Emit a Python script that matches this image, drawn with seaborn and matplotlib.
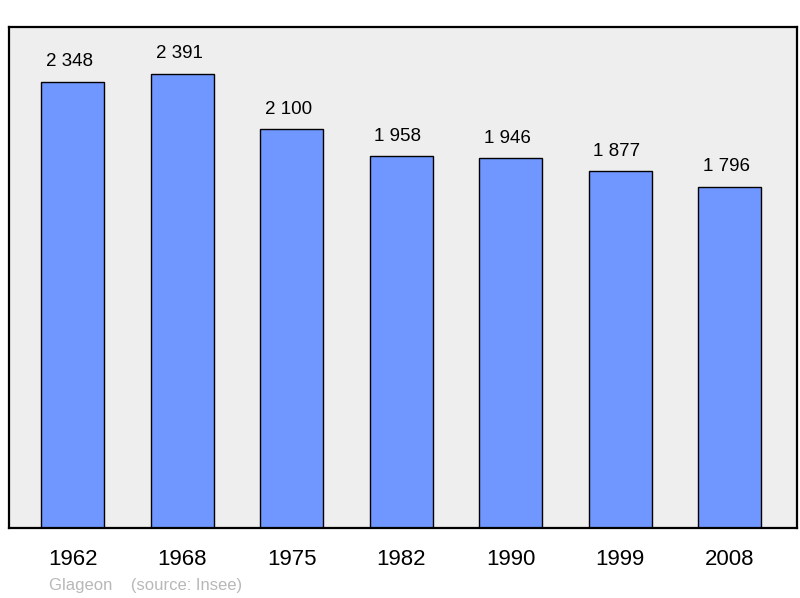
import matplotlib
matplotlib.use("Agg")
import matplotlib.pyplot as plt
import seaborn as sns
import pandas as pd

years = ["1962", "1968", "1975", "1982", "1990", "1999", "2008"]
population = [2348, 2391, 2100, 1958, 1946, 1877, 1796]
labels = ["2 348", "2 391", "2 100", "1 958", "1 946", "1 877", "1 796"]

sns.set_style("white")
plt.rcParams["font.family"] = ["Liberation Sans", "DejaVu Sans"]

df = pd.DataFrame({"year": years, "pop": population})

fig = plt.figure(figsize=(8, 5.98), dpi=100)
ax = fig.add_axes([0.01125, 0.1171, 0.985, 0.8378])
ax.set_facecolor("#eeeeee")

sns.barplot(data=df, x="year", y="pop", color="#7097ff", saturation=1,
            width=0.575, edgecolor="black", linewidth=1.0, ax=ax)

for i, (v, lab) in enumerate(zip(population, labels)):
    ax.text(i - 0.03, v + 60, lab, ha="center", va="bottom", fontsize=13.5, color="black")

ax.set_xlim(-0.584, 6.616)
ax.set_ylim(0, 2637)
ax.set_yticks([])
ax.set_xlabel("")
ax.set_ylabel("")
ax.tick_params(axis="x", length=0, labelsize=16, pad=15, labelcolor="black")
for s in ax.spines.values():
    s.set_linewidth(1.6)
    s.set_color("black")

fig.text(0.061, 0.013, "Glageon    (source: Insee)", fontsize=12, color="#b8b8b8")

fig.savefig("out.png", dpi=100)
